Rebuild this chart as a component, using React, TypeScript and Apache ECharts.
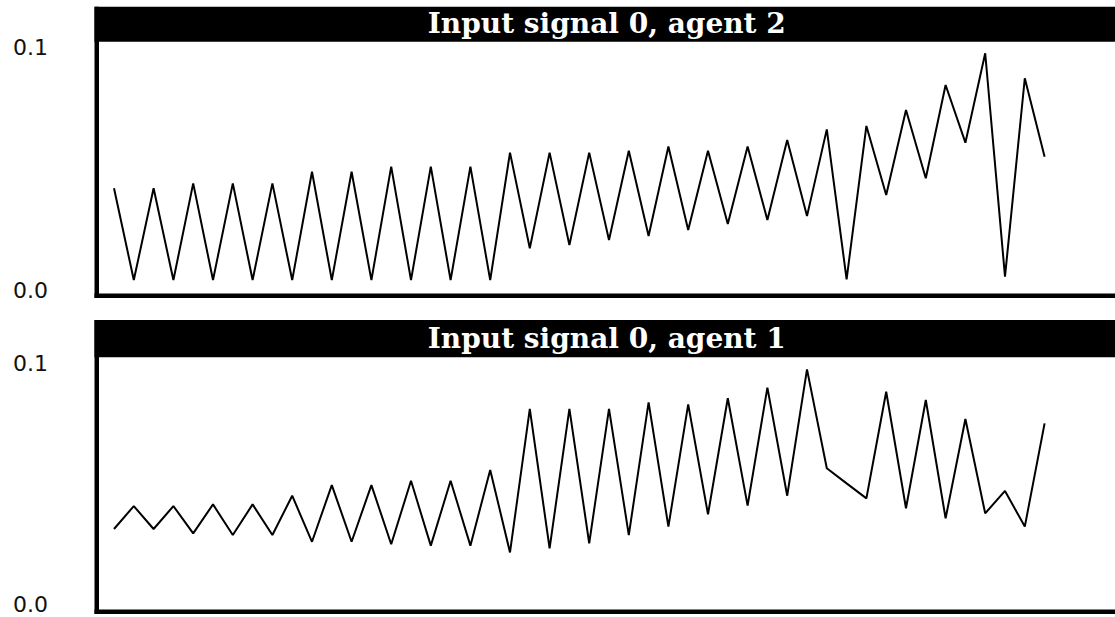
import React, { useEffect, useRef } from "react";
import * as echarts from "echarts";

const steps: string[] = Array.from({ length: 48 }, (_, i) => String(i));

const agent2Title = "Input signal 0, agent 2";
const agent1Title = "Input signal 0, agent 1";

const agent2Values: number[] = [
  0.042, 0.0041, 0.042, 0.0041, 0.044, 0.0041, 0.044, 0.0041, 0.044, 0.0041,
  0.0488, 0.0041, 0.0488, 0.0041, 0.0509, 0.0041, 0.0509, 0.0041, 0.0509, 0.0041,
  0.0567, 0.0172, 0.0567, 0.0186, 0.0567, 0.0206, 0.0575, 0.0223, 0.0592, 0.0248,
  0.0575, 0.0272, 0.0592, 0.0289, 0.0619, 0.0305, 0.0663, 0.0044, 0.0677, 0.0392,
  0.0743, 0.0461, 0.0846, 0.0608, 0.0977, 0.0055, 0.0874, 0.055,
];

const agent1Values: number[] = [
  0.0313, 0.0408, 0.0313, 0.0408, 0.0295, 0.0415, 0.0288, 0.0415, 0.0288, 0.0451,
  0.026, 0.0495, 0.026, 0.0495, 0.025, 0.0513, 0.0244, 0.0513, 0.0244, 0.0558,
  0.0216, 0.0811, 0.0233, 0.0811, 0.0254, 0.0811, 0.0288, 0.0838, 0.0323, 0.083,
  0.0374, 0.0855, 0.041, 0.0899, 0.0451, 0.0975, 0.0565, 0.0502, 0.044, 0.0882,
  0.0399, 0.0848, 0.0357, 0.0769, 0.0378, 0.0471, 0.0323, 0.0751,
];

const yMin = 0.0;
const yMax = 0.1;

export default function App() {
  const ref = useRef<HTMLDivElement>(null);

  useEffect(() => {
    if (!ref.current) return;
    const chart = echarts.init(ref.current, null, { renderer: "svg" });

    const panels = [
      { barTop: 6.7, barBottom: 41.7, frameBottom: 298, gridTop: 47.7, gridBottom: 290, title: agent2Title, textY: 23 },
      { barTop: 320, barBottom: 357.3, frameBottom: 614, gridTop: 363.3, gridBottom: 604.5, title: agent1Title, textY: 338.6 },
    ];
    const frameLeft = 94.5;
    const frameRight = 1119;
    const border = 4.5;

    const graphics: any[] = [];
    panels.forEach((p) => {
      graphics.push({
        type: "rect",
        silent: true,
        shape: { x: frameLeft, y: p.barTop, width: frameRight - frameLeft, height: p.barBottom - p.barTop },
        style: { fill: "#000" },
      });
      graphics.push({
        type: "rect",
        silent: true,
        shape: { x: frameLeft, y: p.barTop, width: border, height: p.frameBottom - p.barTop },
        style: { fill: "#000" },
      });
      graphics.push({
        type: "rect",
        silent: true,
        shape: { x: frameLeft, y: p.frameBottom - border, width: frameRight - frameLeft, height: border },
        style: { fill: "#000" },
      });
      graphics.push({
        type: "text",
        silent: true,
        x: (frameLeft + frameRight) / 2,
        y: p.textY,
        style: {
          text: p.title,
          fill: "#fff",
          font: 'bold 28px "DejaVu Serif"',
          align: "center",
          verticalAlign: "middle",
        },
      });
    });

    const gridLeft = 114;
    const gridWidth = 930.6;

    const makeY = (gridIndex: number) => ({
      type: "value",
      gridIndex,
      min: yMin,
      max: yMax,
      interval: 0.1,
      axisLine: { show: false },
      axisTick: { show: false },
      splitLine: { show: false },
      axisLabel: {
        show: true,
        align: "left",
        margin: gridLeft - 13,
        color: "#111",
        fontFamily: "DejaVu Sans",
        fontSize: 22,
        formatter: (v: number) => v.toFixed(1),
      },
    });

    const makeX = (gridIndex: number) => ({
      type: "category",
      gridIndex,
      data: steps,
      boundaryGap: false,
      axisLine: { show: false },
      axisTick: { show: false },
      axisLabel: { show: false },
      splitLine: { show: false },
    });

    chart.setOption({
      animation: false,
      backgroundColor: "#fff",
      grid: panels.map((p) => ({
        left: gridLeft,
        width: gridWidth,
        top: p.gridTop,
        height: p.gridBottom - p.gridTop,
        containLabel: false,
      })),
      xAxis: [makeX(0), makeX(1)],
      yAxis: [makeY(0), makeY(1)],
      graphic: graphics,
      series: [
        {
          type: "line",
          xAxisIndex: 0,
          yAxisIndex: 0,
          data: agent2Values,
          showSymbol: false,
          lineStyle: { color: "#000", width: 2 },
          clip: false,
        },
        {
          type: "line",
          xAxisIndex: 1,
          yAxisIndex: 1,
          data: agent1Values,
          showSymbol: false,
          lineStyle: { color: "#000", width: 2 },
          clip: false,
        },
      ],
    });

    return () => chart.dispose();
  }, []);

  return (
    <div
      ref={ref}
      style={{ position: "fixed", left: 0, top: 0, width: 1115, height: 617, background: "#fff" }}
    />
  );
}
